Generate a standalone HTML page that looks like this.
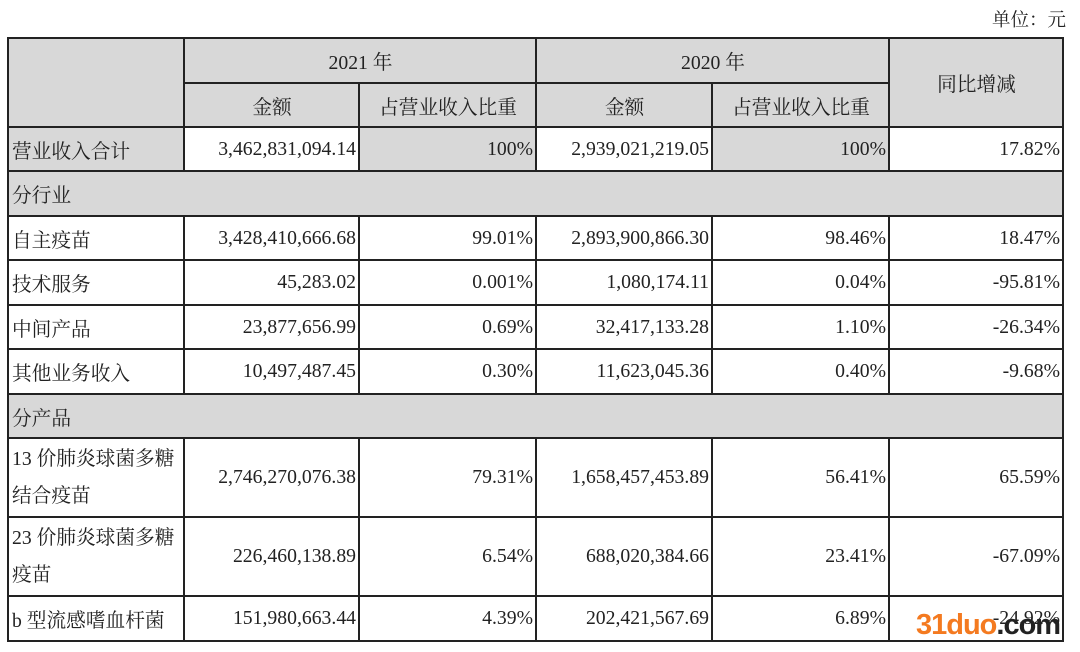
<!DOCTYPE html>
<html><head><meta charset="utf-8"><style>
body{margin:0;width:1080px;height:652px;background:#fff;position:relative;overflow:hidden;font-family:"Liberation Serif","Noto Serif CJK SC",serif;font-size:19.7px;color:#222}
.unit{position:absolute;left:992px;top:6px;font-size:18.5px}
table{position:absolute;left:7px;top:37px;border-collapse:collapse;table-layout:fixed}
td{border:2px solid #222;padding:0 2px 0 3px;white-space:nowrap;height:40px}
.g{background:#d8d8d8}
.c{text-align:center}
.r{text-align:right}
.l{text-align:left}
.wm{position:absolute;left:916px;top:609px;font-family:"Liberation Sans",sans-serif;font-weight:bold;font-size:29px;color:#f47a20;letter-spacing:-1px}
.wm span{color:#222}
</style></head><body>
<div class="unit">单位：元</div>
<table>
<colgroup><col style="width:176px"><col style="width:175px"><col style="width:177px"><col style="width:176px"><col style="width:177px"><col style="width:174px"></colgroup>
<tr style="height:45px"><td class="g" rowspan="2"></td><td class="g c" colspan="2">2021 年</td><td class="g c" colspan="2">2020 年</td><td class="g c" rowspan="2">同比增减</td></tr>
<tr style="height:44px"><td class="g c">金额</td><td class="g c">占营业收入比重</td><td class="g c">金额</td><td class="g c">占营业收入比重</td></tr>
<tr style="height:44px"><td class="g l">营业收入合计</td><td class="r">3,462,831,094.14</td><td class="g r">100%</td><td class="r">2,939,021,219.05</td><td class="g r">100%</td><td class="r">17.82%</td></tr>
<tr style="height:45px"><td class="g l" colspan="6">分行业</td></tr>
<tr style="height:44px"><td>自主疫苗</td><td class="r">3,428,410,666.68</td><td class="r">99.01%</td><td class="r">2,893,900,866.30</td><td class="r">98.46%</td><td class="r">18.47%</td></tr>
<tr style="height:45px"><td>技术服务</td><td class="r">45,283.02</td><td class="r">0.001%</td><td class="r">1,080,174.11</td><td class="r">0.04%</td><td class="r">-95.81%</td></tr>
<tr style="height:44px"><td>中间产品</td><td class="r">23,877,656.99</td><td class="r">0.69%</td><td class="r">32,417,133.28</td><td class="r">1.10%</td><td class="r">-26.34%</td></tr>
<tr style="height:45px"><td>其他业务收入</td><td class="r">10,497,487.45</td><td class="r">0.30%</td><td class="r">11,623,045.36</td><td class="r">0.40%</td><td class="r">-9.68%</td></tr>
<tr style="height:44px"><td class="g l" colspan="6">分产品</td></tr>
<tr style="height:79px"><td style="line-height:37px;white-space:normal">13 价肺炎球菌多糖结合疫苗</td><td class="r">2,746,270,076.38</td><td class="r">79.31%</td><td class="r">1,658,457,453.89</td><td class="r">56.41%</td><td class="r">65.59%</td></tr>
<tr style="height:79px"><td style="line-height:37px;white-space:normal">23 价肺炎球菌多糖疫苗</td><td class="r">226,460,138.89</td><td class="r">6.54%</td><td class="r">688,020,384.66</td><td class="r">23.41%</td><td class="r">-67.09%</td></tr>
<tr style="height:45px"><td>b 型流感嗜血杆菌</td><td class="r">151,980,663.44</td><td class="r">4.39%</td><td class="r">202,421,567.69</td><td class="r">6.89%</td><td class="r">-24.92%</td></tr>
</table>
<div class="wm">31duo<span>.com</span></div>
</body></html>
